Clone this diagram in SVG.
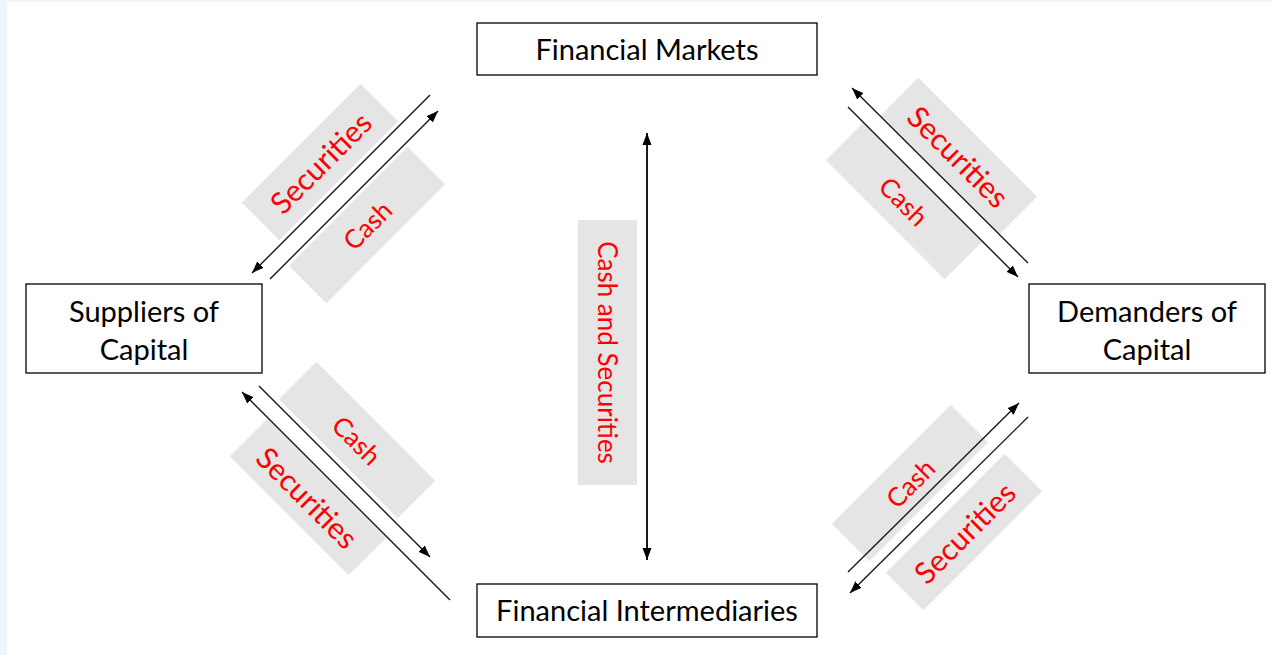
<svg xmlns="http://www.w3.org/2000/svg" width="1273" height="655" viewBox="0 0 1273 655">
<style>
.node rect{fill:#fff;stroke:#000;stroke-width:1.3}
.node text{font-family:Lato,"Liberation Sans",sans-serif;font-size:29px;fill:#000;text-anchor:middle;dominant-baseline:central}
.lbl rect{fill:#e5e5e5}
.lbl text{font-family:Lato,"Liberation Sans",sans-serif;fill:#ff0000;text-anchor:middle;dominant-baseline:central}
.sec{font-size:30px}
.cash{font-size:26px}
.conn path{fill:none;stroke:#1a1a1a;stroke-width:1.4}
</style>
<defs>
<marker id="ah" markerUnits="userSpaceOnUse" markerWidth="13" markerHeight="10" refX="12" refY="5" orient="auto-start-reverse">
<path d="M0,0.5 L12,5 L0,9.5 z" fill="#000"/>
</marker>
</defs>
<rect x="0" y="0" width="1273" height="655" fill="#eef5fc"/>
<rect x="7" y="2" width="1266" height="653" fill="#fff"/>

<g id="labels">
<g id="lbl-tl-sec" class="lbl" transform="translate(320,162) rotate(-45)"><rect x="-84" y="-26.5" width="168" height="53"/><text class="sec">Securities</text></g>
<g id="lbl-tl-cash" class="lbl" transform="translate(367,225) rotate(-45)"><rect x="-84" y="-26.5" width="168" height="53"/><text class="cash">Cash</text></g>
<g id="lbl-tr-sec" class="lbl" transform="translate(959,156) rotate(45)"><rect x="-84" y="-26.5" width="168" height="53"/><text class="sec">Securities</text></g>
<g id="lbl-tr-cash" class="lbl" transform="translate(904,201) rotate(45)"><rect x="-84" y="-26.5" width="168" height="53"/><text class="cash">Cash</text></g>
<g id="lbl-bl-cash" class="lbl" transform="translate(357,440) rotate(45)"><rect x="-84" y="-26.5" width="168" height="53"/><text class="cash">Cash</text></g>
<g id="lbl-bl-sec" class="lbl" transform="translate(308,497) rotate(45)"><rect x="-84" y="-26.5" width="168" height="53"/><text class="sec">Securities</text></g>
<g id="lbl-br-cash" class="lbl" transform="translate(910,483) rotate(-45)"><rect x="-84" y="-26.5" width="168" height="53"/><text class="cash">Cash</text></g>
<g id="lbl-br-sec" class="lbl" transform="translate(964,532) rotate(-45)"><rect x="-84" y="-26.5" width="168" height="53"/><text class="sec">Securities</text></g>
<g id="lbl-mid" class="lbl" transform="translate(607.5,352.5) rotate(90)"><rect x="-132.5" y="-29.5" width="265" height="59"/><text style="font-size:26px">Cash and Securities</text></g>
</g>

<g id="connectors" class="conn">
<path d="M430,95 L252,273" marker-end="url(#ah)"/>
<path d="M270,279 L438,111" marker-end="url(#ah)"/>
<path d="M1028,263 L852,88" marker-end="url(#ah)"/>
<path d="M848,107 L1018,277" marker-end="url(#ah)"/>
<path d="M450,600 L242,392" marker-end="url(#ah)"/>
<path d="M259,386 L430,557" marker-end="url(#ah)"/>
<path d="M848,572 L1019,403" marker-end="url(#ah)"/>
<path d="M1028,417 L850,593" marker-end="url(#ah)"/>
<path d="M647,133 L647,560" style="stroke-width:2" marker-start="url(#ah)" marker-end="url(#ah)"/>
</g>

<g id="financial-markets" class="node"><rect x="477" y="23" width="340" height="52"/><text x="647" y="48">Financial Markets</text></g>
<g id="suppliers" class="node"><rect x="26" y="284" width="236" height="89"/><text x="144" y="310">Suppliers of</text><text x="144" y="348">Capital</text></g>
<g id="demanders" class="node"><rect x="1029" y="284" width="236" height="89"/><text x="1147" y="310">Demanders of</text><text x="1147" y="348">Capital</text></g>
<g id="financial-intermediaries" class="node"><rect x="477" y="584" width="340" height="53"/><text x="647" y="609">Financial Intermediaries</text></g>
</svg>
